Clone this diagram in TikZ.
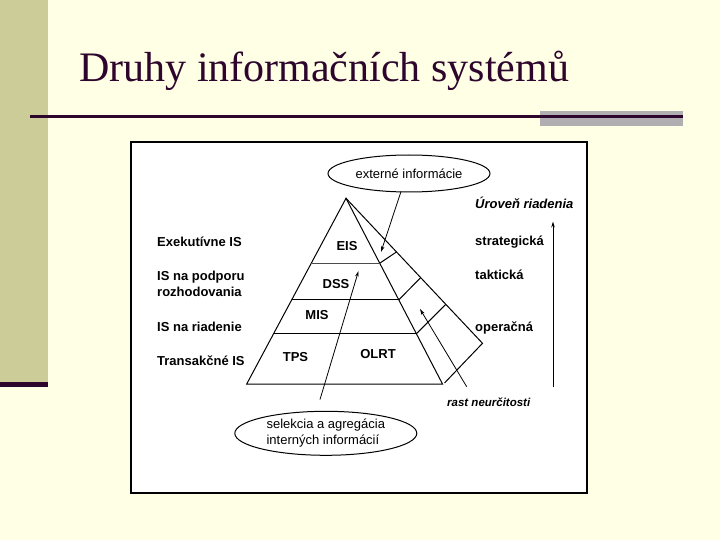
\documentclass[tikz,border=0pt]{standalone}
\usepackage{fontspec}
\setmainfont{Liberation Serif}
\newfontfamily\arial{Liberation Sans}
\usetikzlibrary{arrows.meta,calc,shapes.geometric}
\definecolor{bg}{RGB}{255,255,229}
\definecolor{barc}{RGB}{204,204,153}
\definecolor{plum}{RGB}{45,5,45}
\definecolor{grayb}{RGB}{176,174,176}
\begin{document}
\begin{tikzpicture}[x=1pt,y=-1pt,
  lbl/.style={font=\arial\bfseries\fontsize{13}{16}\selectfont, anchor=base west, inner sep=0pt},
  lvl/.style={font=\arial\bfseries\fontsize{13}{16}\selectfont, anchor=center, inner sep=0pt},
  ilbl/.style={font=\arial\bfseries\itshape\fontsize{13}{16}\selectfont, anchor=base west, inner sep=0pt},
  oval/.style={ellipse, draw=black, line width=1pt, fill=white, inner sep=0pt, font=\arial\fontsize{13}{16.5}\selectfont},
  ln/.style={draw=black, line width=1pt},
  arr/.style={draw=black, line width=0.8pt, -{Stealth[length=6pt,width=3.5pt]}}
]
\useasboundingbox (0,0) rectangle (720,540);
\fill[bg] (0,0) rectangle (720,540);
\fill[barc] (0,0) rectangle (48,382);
\fill[plum] (0,382) rectangle (48,387);
\node[anchor=base west, inner sep=0pt, text=plum, font=\fontsize{42}{48}\selectfont] (title) at (79,82) {Druhy informačních systémů};
\fill[grayb] (540,111) rectangle (683,126);
\draw[plum, line width=3pt] (30,117) -- (683,117);
% diagram frame
\draw[fill=white, draw=black, line width=2pt] (131,142) rectangle (587,493);
% pyramid
\coordinate (A) at (346,198.3);
\coordinate (BL) at (246.7,384);
\coordinate (BR) at (442.5,384);
\coordinate (V) at (482.5,343.3);
\coordinate (F) at (444.5,383);
\draw[ln, line join=miter] (A) -- (BL) -- (BR) -- cycle;
\draw[ln, line join=miter] (A) -- (V) -- (F);
\coordinate (L1) at ($(A)!0.3495!(BL)$);
\coordinate (R1) at ($(A)!0.3495!(BR)$);
\coordinate (L2) at ($(A)!0.547!(BL)$);
\coordinate (R2) at ($(A)!0.547!(BR)$);
\coordinate (L3) at ($(A)!0.7296!(BL)$);
\coordinate (R3) at ($(A)!0.7296!(BR)$);
\draw[draw=black!70, line width=1pt] (L1) -- (R1);
\draw[ln] (L2) -- (R2);
\draw[ln] (L3) -- (R3);
\coordinate (T1) at ($(A)!0.370!(V)$);
\coordinate (T2) at ($(A)!0.547!(V)$);
\coordinate (T3) at ($(A)!0.731!(V)$);
\draw[ln] (R1) -- (T1);
\draw[ln] (R2) -- (T2);
\draw[ln] (R3) -- (T3);
% level labels in pyramid
\node[lvl] (eis) at (347,246.5) {EIS};
\node[lvl] (dss) at (336,284.5) {DSS};
\node[lvl] (mis) at (317,315.5) {MIS};
\node[lvl] (tps) at (295.5,357.5) {TPS};
\node[lvl] (olrt) at (378,354) {OLRT};
% ellipses
\node[oval, minimum width=162pt, minimum height=37pt] (ext) at (409,173.5) {externé informácie};
\node[oval, minimum width=182pt, minimum height=44pt, align=left] (sel) at (325.8,433.3) {selekcia a agregácia\\interných informácií};
% arrows
\coordinate (ea) at (401,191.5);
\coordinate (et) at (381,252);
\draw[arr] (ea) -- (et);
\coordinate (sa) at (320,399.5);
\coordinate (st) at (358.5,271);
\draw[arr] (sa) -- (st);
\coordinate (ua) at (466.7,386.7);
\coordinate (ut) at (420,309);
\draw[arr] (ua) -- (ut);
\coordinate (va) at (553,387);
\coordinate (vt) at (553,221.5);
\draw[arr] (va) -- (vt);
% left labels
\node[lbl] (l1) at (157,246) {Exekutívne IS};
\node[lbl] (l2) at (157,280) {IS na podporu};
\node[lbl] (l2b) at (157,296.5) {rozhodovania};
\node[lbl] (l3) at (157,331.5) {IS na riadenie};
\node[lbl] (l4) at (157,365) {Transakčné IS};
% right labels
\node[ilbl] (r0) at (475,208) {Úroveň riadenia};
\node[lbl] (r1) at (475,245) {strategická};
\node[lbl] (r2) at (475,279) {taktická};
\node[lbl] (r3) at (475,331) {operačná};
\node[anchor=base west, inner sep=0pt, font=\arial\bfseries\itshape\fontsize{11.5}{13}\selectfont] (rast) at (447,406.5) {rast neurčitosti};
\end{tikzpicture}
\end{document}
